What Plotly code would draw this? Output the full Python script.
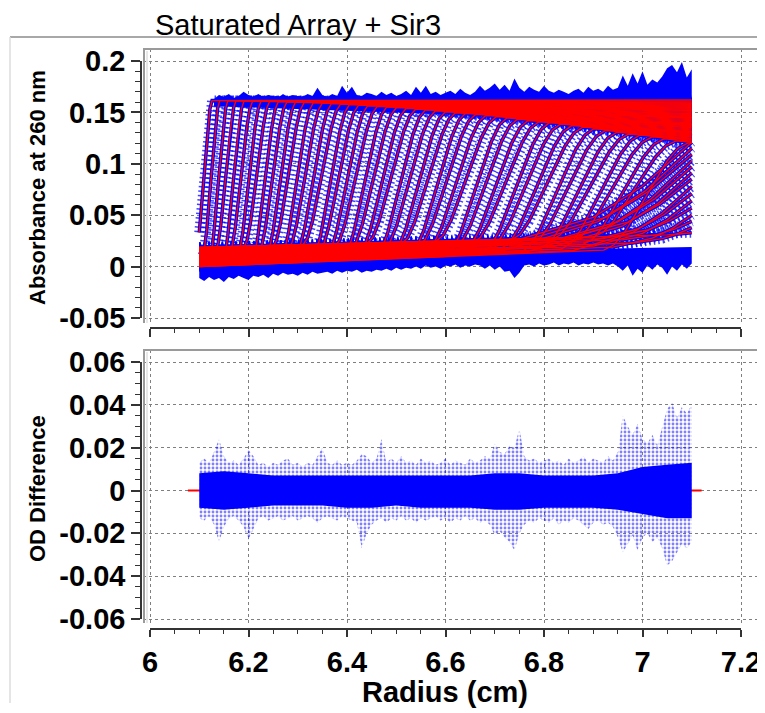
import numpy as np
import plotly.graph_objects as go

# ------------------------------------------------------------------ data
R_MENISCUS, R_BOTTOM = 6.10, 7.10

# boundary midpoints / widths (cm) of the scans that reach the plateau
scan_mid = [6.108, 6.124, 6.139, 6.154, 6.169, 6.185, 6.201, 6.217, 6.233, 6.249,
            6.265, 6.281, 6.298, 6.315, 6.332, 6.349, 6.366, 6.383, 6.400, 6.418,
            6.436, 6.454, 6.472, 6.490, 6.508, 6.527, 6.546, 6.565, 6.584, 6.603,
            6.622, 6.642, 6.662, 6.682, 6.702, 6.722, 6.743, 6.764, 6.785, 6.806,
            6.827, 6.849, 6.871, 6.893, 6.915, 6.938, 6.961, 6.984, 7.007]
scan_width = [0.036, 0.035, 0.038, 0.041, 0.044, 0.047, 0.049, 0.052, 0.055, 0.058,
              0.061, 0.064, 0.067, 0.070, 0.073, 0.076, 0.078, 0.081, 0.084, 0.087,
              0.090, 0.093, 0.096, 0.099, 0.102, 0.105, 0.107, 0.110, 0.113, 0.116,
              0.119, 0.122, 0.125, 0.128, 0.131, 0.134, 0.136, 0.139, 0.142, 0.145,
              0.148, 0.151, 0.154, 0.157, 0.160, 0.163, 0.165, 0.168, 0.171]
# plateau absorbance of each scan at the cell bottom (7.10 cm)
scan_plateau_end = [0.162, 0.161, 0.160, 0.159, 0.159, 0.158, 0.157, 0.156, 0.155, 0.154,
                    0.153, 0.152, 0.152, 0.151, 0.150, 0.149, 0.148, 0.147, 0.146, 0.145,
                    0.145, 0.144, 0.143, 0.142, 0.141, 0.140, 0.139, 0.138, 0.138, 0.137,
                    0.136, 0.135, 0.134, 0.133, 0.132, 0.131, 0.131, 0.130, 0.129, 0.128,
                    0.127, 0.126, 0.125, 0.124, 0.124, 0.123, 0.122, 0.121, 0.120]
PLATEAU_START = (6.13, 0.1615)
# normalised boundary shape (fraction of width -> fraction of rise)
profile_x = [0.0, 0.12, 0.25, 0.5, 0.75, 0.88, 1.0]
profile_y = [0.0, 0.05, 0.17, 0.5, 0.83, 0.95, 1.0]

# last scans: broad boundaries that do not reach the plateau before 7.10 cm
late_foot = [6.70, 6.72, 6.75, 6.77, 6.80, 6.82, 6.84, 6.86, 6.88, 6.90, 6.92, 6.94, 6.96, 6.98, 7.00]
late_end = [0.121, 0.115, 0.109, 0.103, 0.097, 0.091, 0.085, 0.078, 0.071, 0.064, 0.057, 0.050,
            0.044, 0.038, 0.033]
late_profile_x = [0.0, 0.5, 0.75, 1.0]
late_profile_y = [0.0, 0.28, 0.58, 1.0]

# baseline band (absorbance at meniscus and at bottom)
BASE_START = (0.000, 0.020)
BASE_END = (0.0195, 0.032)
base_fraction = [0.0, 0.5, 0.25, 0.75, 0.125, 0.625, 0.375, 0.875,
                 0.0625, 0.5625, 0.3125, 0.8125, 0.1875, 0.6875, 0.4375, 0.9375]

# raw-data noise envelope, top panel
noise_top_r = np.round(np.arange(6.13, 7.1001, 0.01), 2)
noise_top = [0.163, 0.167, 0.165, 0.168, 0.164, 0.166, 0.170, 0.167, 0.165, 0.168,
             0.165, 0.167, 0.166, 0.164, 0.168, 0.165, 0.167, 0.166, 0.165, 0.168,
             0.166, 0.174, 0.167, 0.165, 0.168, 0.166, 0.176, 0.169, 0.175, 0.167,
             0.166, 0.169, 0.168, 0.166, 0.170, 0.167, 0.169, 0.166, 0.168, 0.171,
             0.167, 0.175, 0.169, 0.176, 0.168, 0.170, 0.167, 0.169, 0.171, 0.168,
             0.173, 0.169, 0.167, 0.170, 0.176, 0.171, 0.174, 0.178, 0.172, 0.177,
             0.171, 0.183, 0.174, 0.170, 0.175, 0.172, 0.170, 0.176, 0.171, 0.169,
             0.172, 0.170, 0.168, 0.171, 0.173, 0.169, 0.175, 0.171, 0.173, 0.170,
             0.176, 0.172, 0.174, 0.186, 0.176, 0.188, 0.178, 0.190, 0.177, 0.182,
             0.179, 0.185, 0.193, 0.196, 0.189, 0.199, 0.184, 0.192]
upper_floor_r = [6.13, 7.10]
upper_floor = [0.156, 0.140]

noise_bot_r = np.round(np.arange(6.10, 7.1001, 0.01), 2)
noise_bot = [-0.011, -0.014, -0.010, -0.013, -0.011, -0.015, -0.010, -0.012, -0.009, -0.011,
             -0.013, -0.009, -0.010, -0.008, -0.011, -0.007, -0.009, -0.006, -0.008, -0.007,
             -0.009, -0.006, -0.008, -0.005, -0.007, -0.006, -0.005, -0.007, -0.004, -0.006,
             -0.004, -0.005, -0.003, -0.006, -0.004, -0.005, -0.003, -0.004, -0.002, -0.004,
             -0.001, -0.003, -0.001, -0.002, 0.000, -0.002, 0.001, -0.001, 0.000, -0.002,
             0.001, 0.000, 0.002, -0.001, 0.001, 0.000, 0.002, 0.001, -0.002, 0.001,
             -0.003, 0.000, -0.005, -0.004, -0.011, -0.006, 0.001, 0.002, 0.000, 0.003,
             0.001, 0.002, 0.004, 0.001, 0.003, 0.002, 0.004, 0.001, 0.003, 0.002,
             0.004, 0.002, 0.003, 0.001, 0.003, 0.000, -0.004, 0.001, -0.009, -0.002,
             -0.006, 0.001, -0.003, 0.002, -0.001, -0.008, 0.000, -0.004, 0.002, -0.002,
             0.003]
lower_ceiling_r = [6.10, 7.10]
lower_ceiling = [0.010, 0.019]

# residuals, bottom panel
resid_r = np.round(np.arange(6.10, 7.1001, 0.01), 2)
resid_hi = [0.013, 0.015, 0.013, 0.018, 0.024, 0.016, 0.013, 0.014, 0.012, 0.015,
            0.019, 0.016, 0.012, 0.013, 0.011, 0.013, 0.012, 0.014, 0.015, 0.012,
            0.013, 0.011, 0.013, 0.012, 0.016, 0.020, 0.013, 0.012, 0.014, 0.012,
            0.013, 0.012, 0.014, 0.017, 0.016, 0.013, 0.015, 0.024, 0.013, 0.015,
            0.013, 0.016, 0.013, 0.014, 0.012, 0.015, 0.013, 0.014, 0.012, 0.013,
            0.015, 0.012, 0.014, 0.013, 0.012, 0.015, 0.013, 0.014, 0.016, 0.015,
            0.022, 0.018, 0.017, 0.021, 0.020, 0.029, 0.016, 0.014, 0.015, 0.013,
            0.014, 0.015, 0.013, 0.014, 0.012, 0.015, 0.013, 0.014, 0.016, 0.013,
            0.015, 0.014, 0.013, 0.016, 0.014, 0.018, 0.035, 0.030, 0.026, 0.031,
            0.024, 0.022, 0.026, 0.021, 0.030, 0.038, 0.041, 0.034, 0.039, 0.036,
            0.040]
resid_lo = [-0.013, -0.014, -0.012, -0.016, -0.024, -0.017, -0.013, -0.012, -0.014, -0.017,
            -0.023, -0.018, -0.013, -0.012, -0.014, -0.013, -0.012, -0.014, -0.013, -0.012,
            -0.014, -0.013, -0.012, -0.013, -0.015, -0.013, -0.012, -0.013, -0.014, -0.012,
            -0.013, -0.014, -0.015, -0.027, -0.020, -0.016, -0.014, -0.013, -0.015, -0.013,
            -0.014, -0.012, -0.014, -0.013, -0.015, -0.013, -0.014, -0.013, -0.012, -0.014,
            -0.013, -0.015, -0.013, -0.014, -0.012, -0.014, -0.013, -0.015, -0.014, -0.016,
            -0.021, -0.019, -0.022, -0.024, -0.028, -0.020, -0.016, -0.014, -0.015, -0.013,
            -0.014, -0.015, -0.013, -0.016, -0.014, -0.015, -0.013, -0.014, -0.016, -0.018,
            -0.015, -0.014, -0.016, -0.015, -0.017, -0.022, -0.029, -0.025, -0.021, -0.028,
            -0.022, -0.020, -0.024, -0.022, -0.027, -0.035, -0.033, -0.029, -0.025, -0.027,
            -0.024]
core_r = np.round(np.arange(6.10, 7.1001, 0.05), 2)
core_hi = [0.008, 0.009, 0.008, 0.007, 0.007, 0.007, 0.007, 0.007, 0.007, 0.007, 0.007,
           0.007, 0.008, 0.008, 0.007, 0.007, 0.007, 0.008, 0.011, 0.012, 0.013]
core_lo = [-0.008, -0.009, -0.008, -0.007, -0.007, -0.007, -0.008, -0.008, -0.007, -0.008,
           -0.008, -0.008, -0.009, -0.009, -0.008, -0.008, -0.008, -0.009, -0.011, -0.013, -0.013]
resid_zero_r = [6.077, 7.12]
resid_zero = [0.0, 0.0]

# ticks
x_ticks = [6.0, 6.2, 6.4, 6.6, 6.8, 7.0, 7.2]
x_tick_text = ["6", "6.2", "6.4", "6.6", "6.8", "7", "7.2"]
x_minor = [round(6.0 + 0.05 * k, 2) for k in range(25)]
y1_ticks = [-0.05, 0.0, 0.05, 0.1, 0.15, 0.2]
y1_tick_text = ["-0.05", "0", "0.05", "0.1", "0.15", "0.2"]
y1_minor = [round(-0.05 + 0.01 * k, 3) for k in range(26)]
y2_ticks = [-0.06, -0.04, -0.02, 0.0, 0.02, 0.04, 0.06]
y2_tick_text = ["-0.06", "-0.04", "-0.02", "0", "0.02", "0.04", "0.06"]
y2_minor = [round(-0.06 + 0.005 * k, 3) for k in range(25)]

# ------------------------------------------------------------------ scans
def baseline(i, r):
    f = base_fraction[i % len(base_fraction)]
    b0 = BASE_START[0] + f * (BASE_START[1] - BASE_START[0])
    b1 = BASE_END[0] + f * (BASE_END[1] - BASE_END[0])
    return b0 + (b1 - b0) * (r - R_MENISCUS) / (R_BOTTOM - R_MENISCUS)


def plateau(pend, r):
    r0, p0 = PLATEAU_START
    return p0 + (pend - p0) * (r - r0) / (R_BOTTOM - r0)


scan_x, scan_y = [], []
for i, (m, w, pe) in enumerate(zip(scan_mid, scan_width, scan_plateau_end)):
    foot, top = m - w / 2, m + w / 2
    lo, hi = baseline(i, foot), plateau(pe, top)
    cx = [5.9] + [foot + w * f for f in profile_x] + [7.3]
    cy = [baseline(i, 5.9)] + [lo + (hi - lo) * f for f in profile_y] + [plateau(pe, 7.3)]
    pts = sorted({R_MENISCUS, R_BOTTOM} | {c for c in cx if R_MENISCUS < c < R_BOTTOM})
    scan_x += pts + [None]
    scan_y += list(np.interp(pts, cx, cy)) + [None]
n0 = len(scan_mid)
for j, (foot, end) in enumerate(zip(late_foot, late_end)):
    i = n0 + j
    b = baseline(i, foot)
    span = R_BOTTOM - foot
    scan_x += [R_MENISCUS] + [foot + span * f for f in late_profile_x] + [None]
    scan_y += [baseline(i, R_MENISCUS)] + [b + (end - b) * f for f in late_profile_y] + [None]

# ------------------------------------------------------------------ figure
W, H = 765, 713
OFF = 8  # page body margin of the viewer


def pxx(p):
    return (p - OFF) / W


def pxy(p):
    return 1 - (p - OFF) / H


BLUE = "#0000FF"
RED = "#FF0000"
FONT = "Liberation Sans, Arial, sans-serif"

fig = go.Figure()


def poly(xt, yt, xb, yb):
    return list(xt) + list(xb)[::-1], list(yt) + list(yb)[::-1]

# top panel
px_, py_ = poly(noise_top_r, noise_top, upper_floor_r, upper_floor)
fig.add_trace(go.Scatter(x=px_, y=py_, fill="toself", fillcolor=BLUE, mode="lines",
                         line=dict(width=0, color=BLUE), xaxis="x", yaxis="y", hoverinfo="skip"))
px_, py_ = poly(lower_ceiling_r, lower_ceiling, noise_bot_r, noise_bot)
fig.add_trace(go.Scatter(x=px_, y=py_, fill="toself", fillcolor=BLUE, mode="lines",
                         line=dict(width=0, color=BLUE), xaxis="x", yaxis="y", hoverinfo="skip"))
fig.add_trace(go.Scatter(x=scan_x, y=scan_y, mode="lines",
                         line=dict(color="rgba(0,0,255,0.75)", width=10, dash="1.5px,3px"),
                         xaxis="x", yaxis="y", hoverinfo="skip"))
fig.add_trace(go.Scatter(x=scan_x, y=scan_y, mode="lines", line=dict(color=BLUE, width=3.5),
                         xaxis="x", yaxis="y", hoverinfo="skip"))
fig.add_trace(go.Scatter(x=scan_x, y=scan_y, mode="lines", line=dict(color=RED, width=1.4),
                         xaxis="x", yaxis="y", hoverinfo="skip"))

# bottom panel
fig.add_trace(go.Scatter(x=resid_zero_r, y=resid_zero, mode="lines", line=dict(color=RED, width=2),
                         xaxis="x2", yaxis="y2", hoverinfo="skip"))
px_, py_ = poly(resid_r, resid_hi, resid_r, resid_lo)
fig.add_trace(go.Scatter(x=px_, y=py_, fill="toself", fillcolor="rgba(0,0,255,0.12)", mode="lines",
                         fillpattern=dict(shape=".", size=4, solidity=0.4, fgcolor=BLUE,
                                          bgcolor="rgba(0,0,0,0)", fillmode="overlay"),
                         line=dict(width=0), xaxis="x2", yaxis="y2", hoverinfo="skip"))
px_, py_ = poly(core_r, core_hi, core_r, core_lo)
fig.add_trace(go.Scatter(x=px_, y=py_, fill="toself", fillcolor=BLUE, mode="lines",
                         line=dict(width=0, color=BLUE), xaxis="x2", yaxis="y2", hoverinfo="skip"))

# dummy traces for the tick axes
fig.add_trace(go.Scatter(x=[None], y=[None], xaxis="x3", yaxis="y3", hoverinfo="skip"))
fig.add_trace(go.Scatter(x=[None], y=[None], xaxis="x4", yaxis="y4", hoverinfo="skip"))

x_lo = 6.0 - (150 - 143) / 591 * 1.2
x_hi = 7.2 + (760 - 741) / 591 * 1.2
y1_lo = -0.05 - (323 - 318) / 257 * 0.25
y1_hi = 0.2 + (61 - 49) / 257 * 0.25
y2_lo = -0.06 - (623 - 619) / 257 * 0.12
y2_hi = 0.06 + (362 - 350) / 257 * 0.12

grid = dict(showgrid=True, gridcolor="#7f7f7f", griddash="dot", gridwidth=1, automargin=False,
            showticklabels=False, ticks="", showline=False, zeroline=False)
tickax = dict(showline=True, linecolor="#333333", linewidth=1.5, ticks="outside", automargin=False,
              tickcolor="#333333", tickwidth=1.5, showgrid=False, zeroline=False,
              tickfont=dict(family=FONT, size=29, color="black", weight="bold"))

fig.update_layout(
    template="none",
    width=W, height=H, margin=dict(l=0, r=0, t=0, b=0, pad=0), autosize=False,
    paper_bgcolor="white", plot_bgcolor="rgba(0,0,0,0)", showlegend=False,
    xaxis=dict(domain=[pxx(143), pxx(760)], range=[x_lo, x_hi], anchor="y",
               tickmode="array", tickvals=x_ticks, **grid),
    yaxis=dict(domain=[pxy(323), pxy(49)], range=[y1_lo, y1_hi], anchor="x",
               tickmode="array", tickvals=y1_ticks, **grid),
    xaxis2=dict(domain=[pxx(143), pxx(760)], range=[x_lo, x_hi], anchor="y2",
                tickmode="array", tickvals=x_ticks, **grid),
    yaxis2=dict(domain=[pxy(623), pxy(350)], range=[y2_lo, y2_hi], anchor="x2",
                tickmode="array", tickvals=y2_ticks, **grid),
    xaxis3=dict(domain=[pxx(150), pxx(741)], range=[6.0, 7.2], anchor="free", position=pxy(328),
                tickmode="array", tickvals=x_ticks, showticklabels=False, ticklen=8,
                minor=dict(tickmode="array", tickvals=x_minor, ticks="outside", ticklen=4,
                           tickcolor="#333333", tickwidth=1.2), **tickax),
    yaxis3=dict(domain=[pxy(318), pxy(61)], range=[-0.05, 0.2], anchor="free", position=pxx(141),
                tickmode="array", tickvals=y1_ticks, ticktext=y1_tick_text, ticklen=9,
                minor=dict(tickmode="array", tickvals=y1_minor, ticks="outside", ticklen=5,
                           tickcolor="#333333", tickwidth=1.2), **tickax),
    xaxis4=dict(domain=[pxx(150), pxx(741)], range=[6.0, 7.2], anchor="free", position=pxy(629),
                tickmode="array", tickvals=x_ticks, ticktext=x_tick_text, ticklen=7,
                minor=dict(tickmode="array", tickvals=x_minor, ticks="outside", ticklen=4,
                           tickcolor="#333333", tickwidth=1.2), **tickax),
    yaxis4=dict(domain=[pxy(619), pxy(362)], range=[-0.06, 0.06], anchor="free", position=pxx(141),
                tickmode="array", tickvals=y2_ticks, ticktext=y2_tick_text, ticklen=9,
                minor=dict(tickmode="array", tickvals=y2_minor, ticks="outside", ticklen=5,
                           tickcolor="#333333", tickwidth=1.2), **tickax),
)

shapes = [
    dict(type="line", xref="paper", yref="paper", x0=pxx(10), x1=pxx(765), y0=pxy(37), y1=pxy(37),
         line=dict(color="#a8a8a8", width=2)),
    dict(type="line", xref="paper", yref="paper", x0=pxx(10), x1=pxx(10), y0=pxy(37), y1=pxy(703),
         line=dict(color="#dcdcdc", width=1.5)),
]
for top, bot in [(49, 323), (350, 623)]:
    shapes += [
        dict(type="line", xref="paper", yref="paper", x0=pxx(143), x1=pxx(760), y0=pxy(top), y1=pxy(top),
             line=dict(color="#9a9a9a", width=2)),
        dict(type="line", xref="paper", yref="paper", x0=pxx(144), x1=pxx(144), y0=pxy(top), y1=pxy(bot),
             line=dict(color="#9a9a9a", width=2)),
        dict(type="line", xref="paper", yref="paper", x0=pxx(147), x1=pxx(147), y0=pxy(top + 2), y1=pxy(bot),
             line=dict(color="#d0d0d0", width=1)),
    ]
fig.update_layout(shapes=shapes)

annotations = [
    dict(text="Saturated Array + Sir3", xref="paper", yref="paper", x=pxx(153), y=pxy(25),
         xanchor="left", yanchor="middle", showarrow=False,
         font=dict(family=FONT, size=29, color="black")),
    dict(text="Absorbance at 260 nm", xref="paper", yref="paper", x=pxx(37), y=pxy(188),
         xanchor="center", yanchor="middle", textangle=-90, showarrow=False,
         font=dict(family=FONT, size=22, color="black", weight="bold")),
    dict(text="OD Difference", xref="paper", yref="paper", x=pxx(37), y=pxy(489),
         xanchor="center", yanchor="middle", textangle=-90, showarrow=False,
         font=dict(family=FONT, size=22, color="black", weight="bold")),
    dict(text="Radius (cm)", xref="paper", yref="paper", x=pxx(445), y=pxy(692),
         xanchor="center", yanchor="middle", showarrow=False,
         font=dict(family=FONT, size=29, color="black", weight="bold")),
]
fig.update_layout(annotations=annotations)

fig.write_html("out.html")
